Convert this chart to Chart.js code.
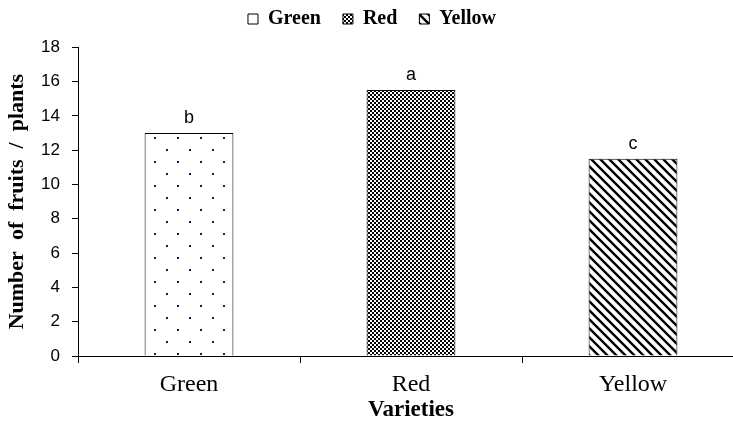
<!DOCTYPE html>
<html>
<head>
<meta charset="utf-8">
<script src="https://cdn.jsdelivr.net/npm/chart.js@4"></script>
<style>
  html, body { margin: 0; padding: 0; background: #fff; overflow: hidden; width: 733px; height: 424px; }
  #wrap { width: 752px; height: 424px; }
</style>
</head>
<body>
<div id="wrap"><canvas id="grafico" width="752" height="424"></canvas></div>
<script>
// datos del grafico
const variedades = ["Green", "Red", "Yellow"];
const frutosPorPlanta = [13.0, 15.5, 11.5];
const letras = ["b", "a", "c"];
const ticksY = [0, 2, 4, 6, 8, 10, 12, 14, 16, 18];

// patrones de relleno
function patronPuntos() {
    const c = document.createElement("canvas");
    c.width = 23; c.height = 24;
    const g = c.getContext("2d");
    g.fillStyle = "#fff";
    g.fillRect(0, 0, 23, 24);
    g.fillStyle = "#1c1c5c";
    g.fillRect(5, 5, 2, 2);
    g.fillRect(16, 17, 2, 2);
    return g.createPattern(c, "repeat");
}

function patronCuadros() {
    const c = document.createElement("canvas");
    c.width = 4; c.height = 4;
    const g = c.getContext("2d");
    g.fillStyle = "#fff";
    g.fillRect(0, 0, 4, 4);
    g.fillStyle = "#000";
    g.fillRect(0, 0, 2, 2);
    g.fillRect(2, 2, 2, 2);
    return g.createPattern(c, "repeat");
}

function patronDiagonal() {
    const n = 9;
    const c = document.createElement("canvas");
    c.width = n; c.height = n;
    const g = c.getContext("2d");
    g.fillStyle = "#fff";
    g.fillRect(0, 0, n, n);
    g.strokeStyle = "#000";
    g.lineWidth = 2.4;
    g.beginPath();
    g.moveTo(-1, -1); g.lineTo(n + 1, n + 1);
    g.moveTo(-1, n - 1); g.lineTo(1, n + 1);
    g.moveTo(n - 1, -1); g.lineTo(n + 1, 1);
    g.stroke();
    return g.createPattern(c, "repeat");
}

const rellenos = [patronPuntos(), patronCuadros(), patronDiagonal()];

// letras encima de las barras
const letrasPlugin = {
    id: "letras",
    afterDatasetsDraw(chart) {
        const ctx = chart.ctx;
        const meta = chart.getDatasetMeta(0);
        ctx.save();
        ctx.fillStyle = "#000";
        ctx.font = "18px 'Liberation Sans', Arial, sans-serif";
        ctx.textAlign = "center";
        ctx.textBaseline = "bottom";
        meta.data.forEach((bar, i) => {
            ctx.fillText(letras[i], bar.x, bar.y - 6);
        });
        ctx.restore();
    }
};

const ctx = document.getElementById("grafico").getContext("2d");

new Chart(ctx, {
    type: "bar",
    data: {
        labels: variedades,
        datasets: [{
            data: frutosPorPlanta,
            backgroundColor: rellenos,
            borderColor: "#000",
            borderWidth: 1,
            barPercentage: 0.4,
            categoryPercentage: 1.0
        }]
    },
    options: {
        responsive: false,
        animation: false,
        layout: { padding: { top: -13, right: 8, bottom: 0, left: 0 } },
        plugins: {
            tooltip: { enabled: false },
            legend: {
                display: true,
                position: "top",
                weight: 1000,
                labels: {
                    boxWidth: 10,
                    boxHeight: 10,
                    padding: 22,
                    color: "#000",
                    font: { family: "'Liberation Serif', 'Times New Roman', serif", size: 20, weight: "bold" },
                    generateLabels: (chart) => variedades.map((v, i) => ({
                        text: v,
                        fillStyle: rellenos[i],
                        strokeStyle: "#000",
                        lineWidth: 1,
                        hidden: false,
                        index: i
                    }))
                },
                onClick: () => {}
            },
            // separador vacio entre leyenda y grafico
            subtitle: {
                display: true,
                text: " ",
                weight: 500,
                font: { size: 1 },
                padding: { top: 0, bottom: 7 }
            }
        },
        scales: {
            x: {
                afterFit: s => { s.height = 68; },
                border: { color: "#000", width: 1 },
                grid: { display: true, drawOnChartArea: false, drawTicks: true, tickLength: 7, color: "#000", offset: true },
                ticks: {
                    color: "#000",
                    padding: 7,
                    font: { family: "'Liberation Serif', 'Times New Roman', serif", size: 24 }
                },
                title: {
                    display: true,
                    text: "Varieties",
                    color: "#000",
                    padding: { top: 0, bottom: 0 },
                    font: { family: "'Liberation Serif', 'Times New Roman', serif", size: 23, weight: "bold" }
                }
            },
            y: {
                min: 0,
                max: 18,
                afterFit: s => { s.width = 78; },
                afterBuildTicks: s => { s.ticks = ticksY.map(v => ({ value: v })); },
                border: { color: "#000", width: 1 },
                grid: { display: true, drawOnChartArea: false, drawTicks: true, tickLength: 6, color: "#000" },
                ticks: {
                    color: "#000",
                    padding: 12,
                    font: { family: "'Liberation Sans', Arial, sans-serif", size: 17 }
                },
                title: {
                    display: true,
                    text: "Number  of  fruits  /  plants",
                    color: "#000",
                    padding: { top: 4, bottom: 0 },
                    font: { family: "'Liberation Serif', 'Times New Roman', serif", size: 22, weight: "bold" }
                }
            }
        }
    },
    plugins: [letrasPlugin]
});
</script>
</body>
</html>
